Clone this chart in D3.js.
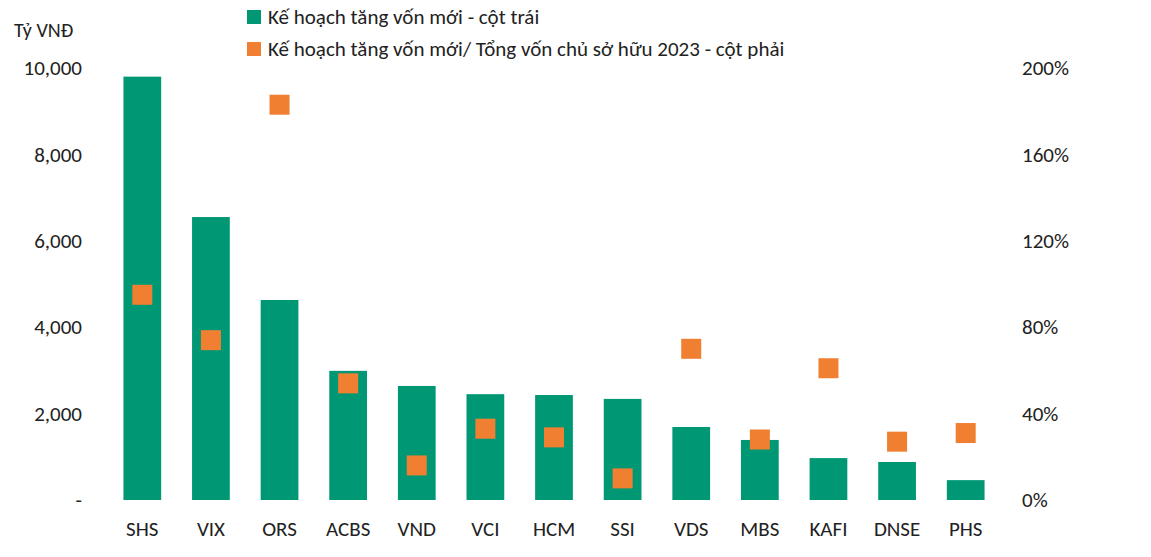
<!DOCTYPE html>
<html>
<head>
<meta charset="utf-8">
<script src="https://cdn.jsdelivr.net/npm/d3@7"></script>
<style>
  body { margin: 0; background: #fff; }
  text { font-family: Carlito, "Liberation Sans", sans-serif; fill: #222; }
</style>
</head>
<body>
<svg width="1151" height="557"></svg>
<script>
const companies = ['SHS', 'VIX', 'ORS', 'ACBS', 'VND', 'VCI', 'HCM', 'SSI', 'VDS', 'MBS', 'KAFI', 'DNSE', 'PHS'];
const newCapital = [9800, 6550, 4630, 2990, 2640, 2450, 2430, 2340, 1690, 1390, 970, 880, 460];
const ratioPct = [95, 74, 183, 54, 16, 33, 29, 10, 70, 28, 61, 27, 31];
const leftTicks = [0, 2000, 4000, 6000, 8000, 10000];
const rightTicks = [0, 40, 80, 120, 160, 200];

const green = '#009874', orange = '#f07f32';
const svg = d3.select('svg');

const x = d3.scaleBand().domain(companies).range([108, 1000]).paddingInner(0.45).paddingOuter(0.225);
const yL = d3.scaleLinear().domain([0, 10000]).range([500, 68]);
const yR = d3.scaleLinear().domain([0, 200]).range([500, 68]);

svg.append('g').attr('transform', 'translate(88,0)')
  .call(d3.axisLeft(yL).tickValues(leftTicks).tickSize(0).tickPadding(6)
    .tickFormat(d => d === 0 ? '-       ' : d3.format(',')(d)))
  .call(g => g.select('.domain').remove())
  .selectAll('text').style('font-size', '21px');

svg.append('g').attr('transform', 'translate(1016,0)')
  .call(d3.axisRight(yR).tickValues(rightTicks).tickSize(0).tickPadding(6).tickFormat(d => d + '%'))
  .call(g => g.select('.domain').remove())
  .selectAll('text').style('font-size', '21px');

svg.append('g').attr('transform', 'translate(0,515)')
  .call(d3.axisBottom(x).tickSize(0).tickPadding(6))
  .call(g => g.select('.domain').remove())
  .selectAll('text').style('font-size', '21px');

svg.append('g').selectAll('rect').data(companies).join('rect')
  .attr('x', d => x(d)).attr('width', x.bandwidth())
  .attr('y', (d, i) => yL(newCapital[i]))
  .attr('height', (d, i) => yL(0) - yL(newCapital[i]))
  .attr('fill', green);

const s = 20;
svg.append('g').selectAll('rect').data(companies).join('rect')
  .attr('x', d => x(d) + x.bandwidth() / 2 - s / 2)
  .attr('y', (d, i) => yR(ratioPct[i]) - s / 2)
  .attr('width', s).attr('height', s)
  .attr('fill', orange);

svg.append('text').attr('x', 14).attr('y', 37).style('font-size', '20px').text('Tỷ VNĐ');

const legend = [
  ['Kế hoạch tăng vốn mới - cột trái', green],
  ['Kế hoạch tăng vốn mới/ Tổng vốn chủ sở hữu 2023 - cột phải', orange]
];
legend.forEach(([label, c], i) => {
  svg.append('rect').attr('x', 247).attr('y', 10 + i * 32).attr('width', 14).attr('height', 14).attr('fill', c);
  svg.append('text').attr('x', 268).attr('y', 24 + i * 32).style('font-size', '21px').text(label);
});
</script>
</body>
</html>
